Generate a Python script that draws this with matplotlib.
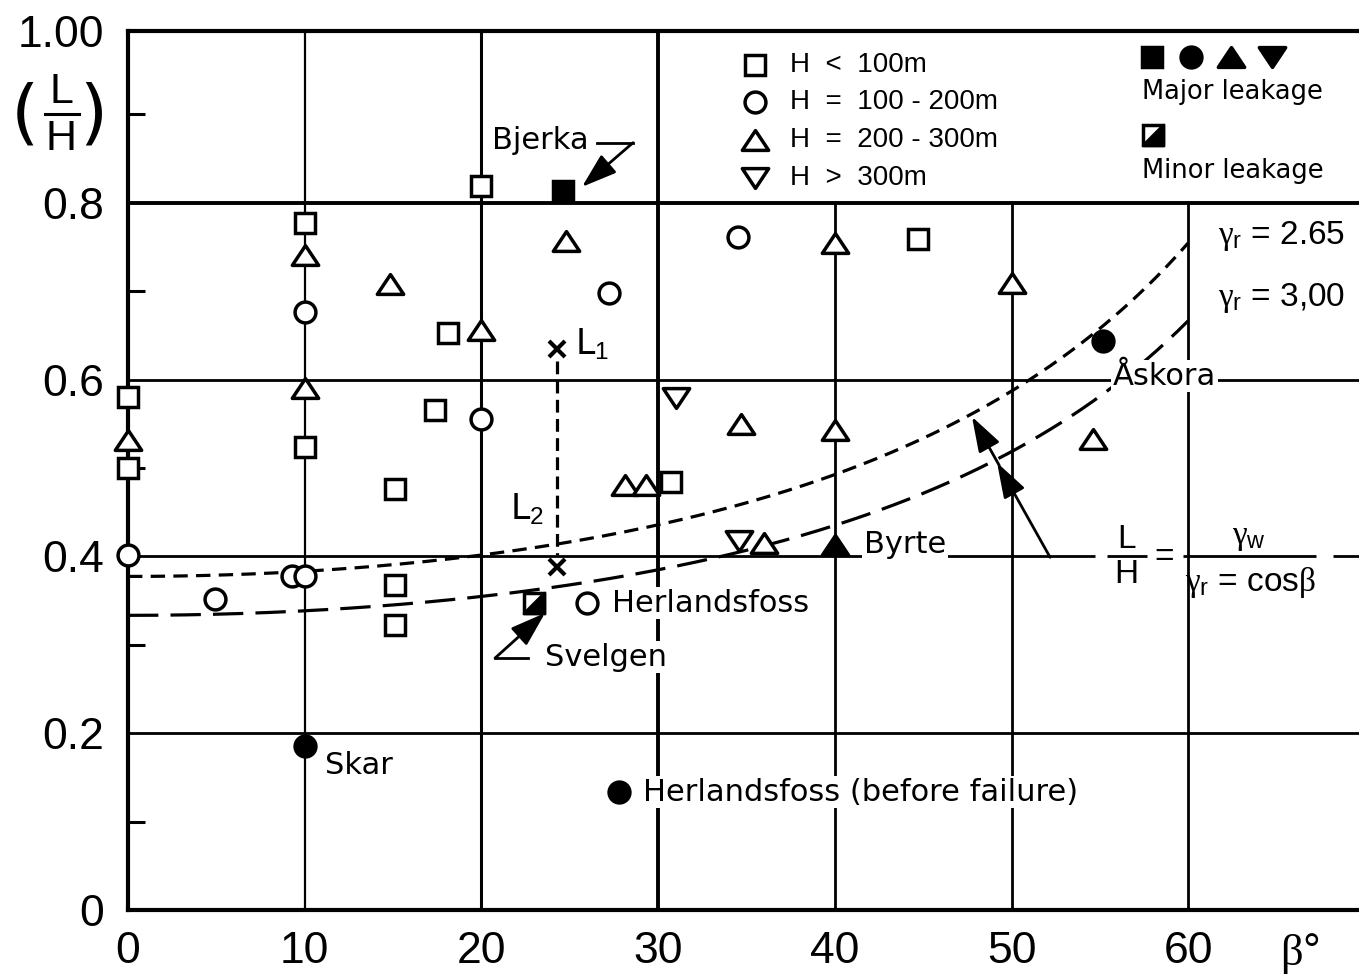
import numpy as np
import matplotlib
matplotlib.use('Agg')
import matplotlib.pyplot as plt
from matplotlib.lines import Line2D
from matplotlib.markers import MarkerStyle
from matplotlib.path import Path

plt.rcParams['font.family'] = ['Liberation Sans', 'DejaVu Sans']
plt.rcParams['mathtext.fontset'] = 'custom'
plt.rcParams['mathtext.rm'] = 'Liberation Sans'
plt.rcParams['mathtext.it'] = 'Liberation Serif'
plt.rcParams['mathtext.bf'] = 'Liberation Sans:bold'

# データ (beta [deg], L/H)
sq_x = [0, 0, 10, 10, 20, 18.1, 17.4, 15.1, 15.1, 15.1, 30.7, 44.7]
sq_y = [0.580, 0.500, 0.777, 0.524, 0.819, 0.653, 0.566, 0.476, 0.368, 0.322, 0.484, 0.759]

ci_x = [0, 4.9, 9.3, 10, 10, 20, 27.2, 34.5, 26.0]
ci_y = [0.402, 0.352, 0.378, 0.378, 0.676, 0.555, 0.698, 0.761, 0.347]

tu_x = [0, 10, 10, 14.8, 20, 24.8, 28.1, 29.3, 34.7, 40, 40, 50, 54.6, 36.0]
tu_y = [0.532, 0.741, 0.590, 0.708, 0.656, 0.757, 0.481, 0.481, 0.550, 0.755, 0.543, 0.709, 0.533, 0.415]

td_x = [31.0, 34.6]
td_y = [0.579, 0.417]

# major leakage
bjerka = (24.6, 0.813)
skar = (10, 0.186)
herl_before = (27.8, 0.133)
askora = (55.2, 0.644)
byrte = (40, 0.413)
# minor leakage
svelgen = (23.0, 0.347)

# L1, L2
L1 = (24.3, 0.635)
L2 = (24.3, 0.388)

gamma_w = 1.0
gamma_r = [2.65, 3.00]
gamma_lbl = ['2.65', '3,00']

xticks = [0, 10, 20, 30, 40, 50, 60]

tri_up = MarkerStyle(Path([(0, 0.75), (-1, -0.75), (1, -0.75), (0, 0.75)], closed=True), joinstyle='miter')
tri_dn = MarkerStyle(Path([(0, -0.75), (-1, 0.75), (1, 0.75), (0, -0.75)], closed=True), joinstyle='miter')
half_tri = MarkerStyle(Path([(-1, -1), (1, -1), (1, 1), (-1, -1)], closed=True), joinstyle='miter')

MS_SQ, MS_CI, MS_TR = 14, 15, 19

fig = plt.figure(figsize=(13.59, 9.76), dpi=100)
ax = fig.add_axes([0.0942, 0.0676, 0.9102, 0.9006])
ax.set_xlim(0, 70)
ax.set_ylim(0, 0.9943)

# 罫線
ax.hlines([0.2, 0.6], 0, 70, color='black', lw=2.0, zorder=1)
ax.hlines([0.4, 0.4, 0.4, 0.4], [0, 55.40, 59.71, 68.2], [54.7, 57.67, 67.23, 70], color='black', lw=2.0, zorder=1)
ax.hlines(0.8, 0, 70, color='black', lw=2.8, zorder=1)
ax.vlines(10, 0, 1, color='black', lw=1.6, zorder=1)
ax.vlines(20, 0, 1, color='black', lw=2.2, zorder=1)
ax.vlines(30, 0, 1, color='black', lw=2.8, zorder=1)
ax.vlines([40, 50, 60], 0, 0.8, color='black', lw=2.0, zorder=1)

for s in ax.spines.values():
    s.set_linewidth(3)

# 理論曲線 L/H = gw / (gr cos b)
beta = np.linspace(0, 60, 300)
ax.plot(beta, gamma_w / (gamma_r[0] * np.cos(np.radians(beta))), color='black', lw=2.3,
        dashes=(4.5, 2.6), zorder=2)
ax.plot(beta, gamma_w / (gamma_r[1] * np.cos(np.radians(beta))), color='black', lw=2.3,
        dashes=(9.5, 3.8), zorder=2)

mk = dict(ls='none', mec='black', mew=2.5, clip_on=False, zorder=5)
ax.plot(sq_x, sq_y, marker='s', ms=MS_SQ, mfc='white', **mk)
ax.plot(ci_x, ci_y, marker='o', ms=MS_CI, mfc='white', **mk)
ax.plot(tu_x, tu_y, marker=tri_up, ms=MS_TR, mfc='white', **mk)
ax.plot(td_x, td_y, marker=tri_dn, ms=MS_TR, mfc='white', **mk)

ax.plot(*bjerka, marker='s', ms=MS_SQ, mfc='black', **mk)
ax.plot([skar[0], herl_before[0], askora[0]], [skar[1], herl_before[1], askora[1]],
        marker='o', ms=MS_CI, mfc='black', **mk)
ax.plot(*byrte, marker=tri_up, ms=MS_TR, mfc='black', **mk)
ax.plot(*svelgen, marker='s', ms=MS_SQ, mfc='white', **mk)
ax.plot(*svelgen, marker=half_tri, ms=MS_SQ, mfc='black', **mk)

# L1 - L2
ax.plot([L1[0], L2[0]], [L1[1] - 0.014, L2[1] + 0.014], color='black', lw=2.3, dashes=(4, 2), zorder=2)
ax.plot([L1[0], L2[0]], [L1[1], L2[1]], ls='none', marker='x', ms=11, mew=3, color='black', zorder=5)
ax.text(L1[0] + 1.0, L1[1] + 0.005, r'L$_{1}$', fontsize=25, family='DejaVu Sans', va='center')
ax.text(L2[0] - 2.7, L2[1] + 0.065, r'L$_{2}$', fontsize=25, family='DejaVu Sans', va='center')

wbox = dict(facecolor='white', edgecolor='none', pad=1)
ann = dict(fontsize=22, family='DejaVu Sans', va='center', zorder=4)
ax.text(20.6, 0.871, 'Bjerka', **ann)
ax.text(11.15, 0.164, 'Skar', bbox=wbox, **ann)
ax.text(27.4, 0.347, 'Herlandsfoss', bbox=wbox, **ann)
ax.text(23.6, 0.286, 'Svelgen', bbox=wbox, **ann)
ax.text(41.65, 0.413, 'Byrte', bbox=wbox, **ann)
ax.text(55.74, 0.604, 'Åskora', bbox=wbox, **ann)
ax.text(29.15, 0.1335, 'Herlandsfoss (before failure)', bbox=wbox, **ann)

arr = dict(arrowstyle='-|>,head_length=0.9,head_width=0.3', color='black', lw=2,
           mutation_scale=24, shrinkA=0, shrinkB=0)
ax.plot([26.54, 28.58], [0.868, 0.868], color='black', lw=2)
ax.annotate('', xy=(25.69, 0.818), xytext=(28.58, 0.868), arrowprops=arr)
ax.plot([22.64, 20.77], [0.285, 0.285], color='black', lw=2)
ax.annotate('', xy=(23.6, 0.336), xytext=(20.77, 0.285), arrowprops=arr)
ax.annotate('', xy=(49.18, 0.506), xytext=(52.18, 0.399), arrowprops=arr)
ax.annotate('', xy=(47.76, 0.558), xytext=(49.3, 0.503), arrowprops=arr)

# gamma_r ラベル
ax.text(61.7, 0.762, r'$\gamma_{\mathrm{r}}$ = ' + gamma_lbl[0], fontsize=24, va='center')
ax.text(61.7, 0.692, r'$\gamma_{\mathrm{r}}$ = ' + gamma_lbl[1], fontsize=24, va='center')

# 式
ax.text(56.5, 0.4186, 'L', fontsize=24, ha='center', va='center')
ax.text(56.5, 0.379, 'H', fontsize=24, ha='center', va='center')
ax.text(58.66, 0.3993, '=', fontsize=24, ha='center', va='center')
ax.text(63.44, 0.421, r'$\gamma_{\mathrm{w}}$', fontsize=24, ha='center', va='center')
ax.text(63.5, 0.371, r'$\gamma_{\mathrm{r}}$ = cos$\beta$', fontsize=24, ha='center', va='center')

# 凡例 (左)
leg_y = [0.956, 0.914, 0.871, 0.828]
leg_txt = ['H  <  100m', 'H  =  100 - 200m', 'H  =  200 - 300m', 'H  >  300m']
leg_mk = [('s', MS_SQ), ('o', MS_CI), (tri_up, MS_TR), (tri_dn, MS_TR)]
for yy, t, (m, s) in zip(leg_y, leg_txt, leg_mk):
    ax.plot(35.48, yy, marker=m, ms=s, mfc='white', **mk)
    ax.text(37.46, yy, t, fontsize=20, va='center')

# 凡例 (右)
for xx, m, s in zip([57.95, 60.16, 62.42, 64.74], ['s', 'o', tri_up, tri_dn], [MS_SQ, MS_CI, MS_TR, MS_TR]):
    ax.plot(xx, 0.965, marker=m, ms=s, mfc='black', **mk)
ax.text(57.38, 0.925, 'Major leakage', fontsize=18.5, family='DejaVu Sans', va='center')
ax.plot(58.0, 0.877, marker='s', ms=MS_SQ, mfc='white', **mk)
ax.plot(58.0, 0.877, marker=half_tri, ms=MS_SQ, mfc='black', **mk)
ax.text(57.38, 0.836, 'Minor leakage', fontsize=18.5, family='DejaVu Sans', va='center')

# 軸
ax.set_xticks(xticks + [66.3])
ax.set_xticklabels([str(v) for v in xticks] + [r'$\beta$°'])
ax.set_yticks([0, 0.2, 0.4, 0.6, 0.8, 0.9943])
ax.set_yticklabels(['0', '0.2', '0.4', '0.6', '0.8', '1.00'])
ax.set_yticks([0.1, 0.3, 0.5, 0.7, 0.9], minor=True)
ax.tick_params(axis='both', which='major', length=0, labelsize=32)
ax.tick_params(axis='x', which='major', pad=15)
ax.tick_params(axis='y', which='major', pad=17)
ax.tick_params(axis='y', which='minor', direction='in', length=12, width=2.2)

# 縦軸ラベル (L/H)
fig.text(25 / 1359, 1 - 116 / 976, '(', fontsize=52, ha='center', va='center', family='DejaVu Sans')
fig.text(93 / 1359, 1 - 116 / 976, ')', fontsize=52, ha='center', va='center', family='DejaVu Sans')
fig.text(61 / 1359, 1 - 92 / 976, 'L', fontsize=31, ha='center', va='center')
fig.text(61 / 1359, 1 - 139 / 976, 'H', fontsize=31, ha='center', va='center')
fig.add_artist(Line2D([45 / 1359, 79 / 1359], [1 - 114 / 976, 1 - 114 / 976], color='black', lw=2.2))

fig.savefig('out.png', dpi=100)
